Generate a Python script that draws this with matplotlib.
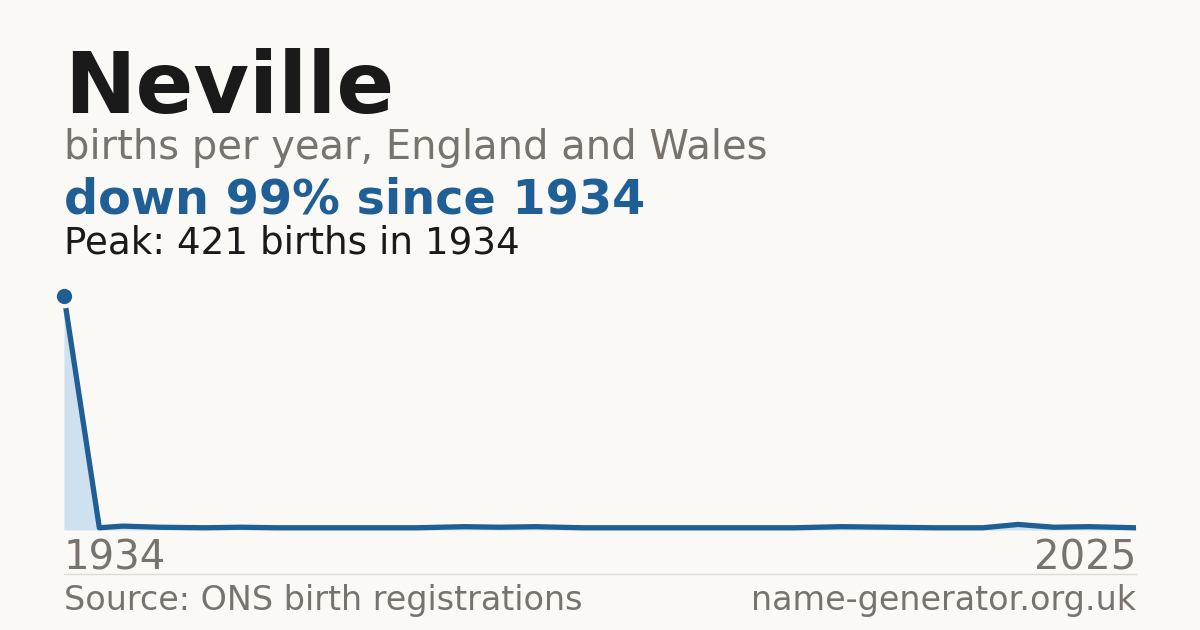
import matplotlib
matplotlib.use('Agg')
import matplotlib.pyplot as plt
from matplotlib.lines import Line2D

# === Data: births per year for "Neville" ===
years = [1934, 1937, 1939, 1942, 1946, 1949, 1952, 1958, 1964, 1968, 1971, 1974,
         1978, 1985, 1992, 1996, 2000, 2004, 2008, 2012, 2015, 2018, 2021, 2025]
births = [421, 4, 7, 5, 4, 5, 4, 4, 4, 6, 5, 6,
          4, 4, 4, 4, 6, 5, 4, 4, 10, 5, 6, 4]
peak_year = 1934
peak_value = 421

name = "Neville"
subtitle = "births per year, England and Wales"
headline = "down 99% since 1934"
peak_text = "Peak: 421 births in 1934"
source = "Source: ONS birth registrations"
site = "name-generator.org.uk"

# === Colours ===
bg = '#faf9f5'
dark = '#1a1a1a'
grey = '#78736c'
blue = '#1f5f96'
fill = '#cfe0ef'
rule = '#dedbd4'

W, H = 1200, 630
fig = plt.figure(figsize=(12, 6.3), dpi=100, facecolor=bg)


def fx(px):
    return px / W


def fy(py):
    return 1 - py / H


# === Titles ===
fig.text(fx(64), fy(113), name, fontsize=61.5, fontweight='bold', color=dark, va='baseline')
fig.text(fx(64), fy(159), subtitle, fontsize=28.8, color=grey, va='baseline')
fig.text(fx(64), fy(214), headline, fontsize=34.4, fontweight='bold', color=blue, va='baseline')
fig.text(fx(64), fy(253), peak_text, fontsize=26.8, color=dark, va='baseline')

# === Chart area ===
ax = fig.add_axes([fx(64), fy(530), fx(1136) - fx(64), (530 - 296) / H])
ax.set_facecolor(bg)
ax.fill_between(years, births, 0, color=fill, lw=0, zorder=1)
ax.axhline(0, color=rule, lw=1.2, zorder=0.5)
ax.plot(years, births, color=blue, lw=3.8, solid_joinstyle='round',
        solid_capstyle='butt', zorder=3, clip_on=False)
# background ring so the line stops short of the peak dot
ax.plot([peak_year], [peak_value], 'o', ms=17, color=bg, mew=0, zorder=4, clip_on=False)
ax.plot([peak_year], [peak_value], 'o', ms=11, color=blue, mew=0, zorder=5, clip_on=False)
ax.set_xlim(1934, 2025)
ax.set_ylim(0, 421)
ax.axis('off')

# === Axis labels and footer ===
fig.text(fx(64), fy(570), str(years[0]), fontsize=28.9, color=grey, va='baseline')
fig.text(fx(1136), fy(570), str(years[-1]), fontsize=28.9, color=grey, va='baseline', ha='right')
fig.add_artist(Line2D([fx(64), fx(1136)], [fy(574), fy(574)], color=rule, lw=1))
fig.text(fx(64), fy(610), source, fontsize=24, color=grey, va='baseline')
fig.text(fx(1136), fy(610), site, fontsize=24, color=grey, va='baseline', ha='right')

fig.savefig('out.png', dpi=100, facecolor=bg)
